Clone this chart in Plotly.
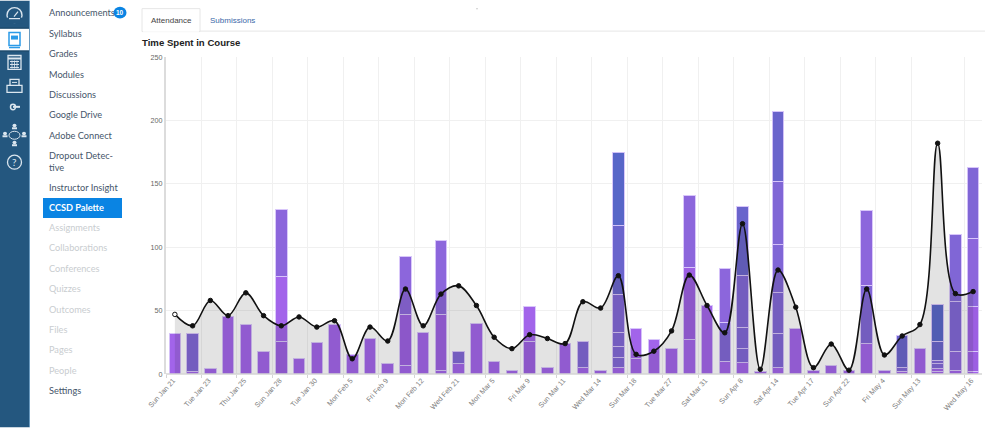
import plotly.graph_objects as go

# ---------- data ----------
n_bands = 46
tick_index = [0, 2, 4, 6, 8, 10, 12, 14, 16, 18, 20, 22, 24, 26, 28, 30, 32, 34, 36, 38, 40, 42, 45]
tick_labels = ["Sun Jan 21", "Tue Jan 23", "Thu Jan 25", "Sun Jan 28", "Tue Jan 30", "Mon Feb 5", "Fri Feb 9",
               "Mon Feb 12", "Wed Feb 21", "Mon Mar 5", "Fri Mar 9", "Sun Mar 11", "Wed Mar 14", "Sun Mar 18",
               "Tue Mar 27", "Sat Mar 31", "Sun Apr 8", "Sat Apr 14", "Tue Apr 17", "Sun Apr 22", "Fri May 4",
               "Sun May 13", "Wed May 16"]
grid_index = [0, 2, 4, 6, 8, 10, 12, 14, 16, 18, 20, 22, 24, 26, 28, 30, 32, 34, 36, 38, 40, 42, 45]

line_values = [47, 38, 58, 46, 64, 46, 38, 45, 37, 42, 12, 37, 26, 67, 38, 63, 69.5, 54, 29, 20, 31, 28, 24, 57,
               52, 77.5, 15.5, 18, 34, 78, 54, 32.5, 118.5, 3.7, 82, 52.7, 5, 23.6, 3, 67, 15, 30, 39, 182, 63.4, 65]

stack_values = [
    [32], [2, 30], [4], [45], [39], [18], [26, 51, 53], [12], [25], [39], [15], [28], [8], [7, 40, 46], [33],
    [3, 44, 58], [8, 10], [40], [10], [3], [26, 27], [5], [24], [5, 21], [3], [5, 8, 9, 11, 30, 54, 58],
    [12, 24], [27], [20], [27, 57, 57], [54], [10, 31, 42], [9, 11, 17, 41, 54], [2], [5, 27, 32, 38, 50, 55],
    [36], [3], [7], [3], [24, 46, 59], [3], [2, 3, 25], [20], [2, 2, 4, 3, 15, 29], [3, 15, 39, 53],
    [2, 16, 35, 54, 56],
]
stack_tones = [
    "a", "ad", "a", "a", "a", "a", "bac", "a", "a", "a", "a", "a", "a", "abc", "a",
    "abc", "ad", "a", "a", "a", "ba", "a", "a", "ad", "a", "addddef", "aa", "a", "a", "abc", "a", "adc",
    "addde", "a", "adddde", "a", "a", "a", "a", "adc", "a", "ade", "a", "aaddef", "acdd", "abbcd",
]
tone_colors = {"a": "#a264ea", "b": "#9c5fe2", "c": "#8c66dc", "d": "#8066d6", "e": "#6a64cc", "f": "#5866c8"}

nav_items = ["Announcements", "Syllabus", "Grades", "Modules", "Discussions", "Google Drive", "Adobe Connect",
             "Dropout Detec-", "tive", "Instructor Insight", "CCSD Palette", "Assignments", "Collaborations",
             "Conferences", "Quizzes", "Outcomes", "Files", "Pages", "People", "Settings"]
nav_y = [12, 33, 53, 74, 94, 114, 135, 155, 167, 187, 207, 228, 248, 269, 289, 310, 330, 350, 371, 391]
nav_muted = {"Assignments", "Collaborations", "Conferences", "Quizzes", "Outcomes", "Files", "Pages", "People"}

# ---------- layout helpers ----------
W, H = 999, 428
L, R, T, B = 166, 982, 56.5, 374.5
def px(x): return (x - L) / (R - L)
def py(y): return (B - y) / (B - T)

shapes, annos = [], []
def rect(x0, y0, x1, y1, fill=None, line=None, lw=1, layer="above", typ="rect"):
    shapes.append(dict(type=typ, xref="paper", yref="paper", x0=px(x0), x1=px(x1), y0=py(y1), y1=py(y0),
                       fillcolor=fill or "rgba(0,0,0,0)", line=dict(color=line or "rgba(0,0,0,0)", width=lw if line else 0),
                       layer=layer))
def seg(x0, y0, x1, y1, color, lw=1, layer="above"):
    shapes.append(dict(type="line", xref="paper", yref="paper", x0=px(x0), x1=px(x1), y0=py(y0), y1=py(y1),
                       line=dict(color=color, width=lw), layer=layer))
def text(x, y, s, size, color, family="Lato", anchor="left", bold=False):
    annos.append(dict(xref="paper", yref="paper", x=px(x), y=py(y), text=f"<b>{s}</b>" if bold else s,
                      showarrow=False, xanchor=anchor, yanchor="middle", borderpad=0, borderwidth=0,
                      font=dict(size=size, color=color, family=family)))

# sidebar strip
NAVY = "#24577f"
rect(0, 0, 29, 428, fill=NAVY, layer="below")
seg(29.5, 0, 29.5, 428, "#6b9bc0", 1, "below")
rect(0, 28, 29, 50, fill="#ffffff", layer="below")
seg(0, 27.5, 29, 27.5, "#1b4666", 1, "below")
seg(0, 50.5, 29, 50.5, "#1b4666", 1, "below")
ic = "#dbe6ef"
# dashboard gauge
rect(7, 7, 22, 22, line=ic, lw=1.4, typ="circle")
rect(6, 17, 23, 23, fill=NAVY)
seg(9, 18, 20, 18, ic, 1.2)
seg(14, 16, 18, 11, ic, 1.2)
# courses book
rect(9, 32, 20, 45, fill="#ffffff", line="#2b9be8", lw=1.5)
rect(11, 35, 18, 39, fill="#2b9be8")
seg(9, 47, 20, 47, "#2b9be8", 1.5)
# calendar
rect(8, 55, 21, 69, line=ic, lw=1.3)
seg(8, 58, 21, 58, ic, 2)
for y in (61, 64, 67):
    seg(10, y, 19, y, ic, 1)
for x in (12, 14.5, 17):
    seg(x, 60, x, 68, ic, 0.8)
# inbox
rect(10, 79, 19, 88, line=ic, lw=1.3)
rect(7, 85, 22, 92, line=ic, lw=1.3, fill=NAVY)
seg(12, 82, 17, 82, ic, 1)
# arrow icon
rect(10.5, 104, 15.5, 109.5, line=ic, lw=1.5, typ="circle")
seg(13, 106.5, 20, 106.5, ic, 2)
# people icon
rect(9, 131, 20, 139, line=ic, lw=1, typ="circle")
for cx, cy in ((14.5, 126), (5, 134), (24, 134), (14.5, 143)):
    rect(cx - 2, cy - 2.5, cx + 2, cy + 1, fill=ic, typ="circle")
    rect(cx - 2.5, cy + 1, cx + 2.5, cy + 3, fill=ic)
# help
rect(7.5, 155, 21.5, 169, line=ic, lw=1.3, typ="circle")
text(14.5, 162, "?", 10, ic, "Lato", "center")

# course nav
rect(43, 198, 122, 218, fill="#0a84e3", layer="below")
for item, y in zip(nav_items, nav_y):
    col = "#c9cdd0" if item in nav_muted else ("#ffffff" if item == "CCSD Palette" else "#46566a")
    text(49, y, item, 9.2, col, "Lato", bold=item == "CCSD Palette")
rect(113.5, 6, 126.5, 18, fill="#0a84e3", typ="circle")
text(120, 12, "10", 6.5, "#ffffff", "Liberation Sans", "center", bold=True)

# tabs and title
seg(142, 30.5, 985, 30.5, "#e6e6e6", 1, "below")
rect(142, 8, 200, 31, fill="#ffffff", line="#e6e6e6", lw=1, layer="below")
seg(143, 30.5, 199, 30.5, "#ffffff", 1.5, "below")
text(171, 19.5, "Attendance", 8, "#444444", "Liberation Sans", "center")
text(232, 19.5, "Submissions", 8, "#3a68a8", "Liberation Sans", "center")
text(142, 42, "Time Spent in Course", 9.6, "#222222", "Liberation Sans", bold=True)
rect(476, 7.5, 478, 8.5, fill="#cccccc", layer="below")
seg(166, 374.5, 982, 374.5, "#d4d4d4", 1.5, "above")

# ---------- figure ----------
fig = go.Figure()
max_levels = max(len(s) for s in stack_values)
xpos = [i + 0.5 for i in range(n_bands)]
for lev in range(max_levels):
    ys = [s[lev] if lev < len(s) else 0 for s in stack_values]
    cols = [tone_colors[t[lev]] if lev < len(t) else "#a264ea" for t in stack_tones]
    fig.add_trace(go.Bar(x=xpos, y=ys, width=0.65, marker=dict(color=cols, line=dict(color="rgba(216,198,250,0.95)", width=1)),
                         showlegend=False, hoverinfo="skip"))

marker_fill = ["#ffffff"] + ["#111111"] * (n_bands - 1)
fig.add_trace(go.Scatter(x=xpos, y=line_values, xaxis="x2", yaxis="y", mode="lines+markers", fill="tozeroy",
                         fillcolor="rgba(30,30,30,0.125)",
                         line=dict(color="#111111", width=1.6, shape="spline", smoothing=1.0),
                         marker=dict(size=4.5, color=marker_fill, line=dict(color="#111111", width=1)),
                         showlegend=False, hoverinfo="skip"))

fig.update_layout(
    width=W, height=H, margin=dict(l=L, r=W - R, t=T, b=H - B, pad=0),
    paper_bgcolor="#ffffff", plot_bgcolor="#ffffff", barmode="stack", showlegend=False,
    shapes=shapes, annotations=annos,
    xaxis=dict(range=[0, n_bands], tickmode="array", tickvals=grid_index, showticklabels=False,
               showgrid=True, gridcolor="#f0f0f0", gridwidth=1, ticks="outside", ticklen=3, tickcolor="#d4d4d4",
               zeroline=False, showline=False),
    xaxis2=dict(range=[0, n_bands], overlaying="x", anchor="y", side="bottom", tickmode="array",
                tickvals=[i + 0.4 for i in tick_index], ticktext=tick_labels, tickangle=-48,
                tickfont=dict(size=7.2, color="#808080", family="Liberation Sans"), showgrid=False, zeroline=False,
                ticks="", showline=False, automargin=False),
    yaxis=dict(range=[0, 250], tickmode="array", tickvals=[0, 50, 100, 150, 200, 250],
               tickfont=dict(size=7.2, color="#666666", family="Liberation Sans"), showgrid=True, gridcolor="#f0f0f0",
               gridwidth=1, zeroline=False, showline=True, linecolor="#dcdcdc", linewidth=2, ticks="",
               automargin=False),
)
fig.write_html("out.html", config={"displayModeBar": False},
               post_script="document.body.style.margin='0';document.body.style.overflow='hidden';")
